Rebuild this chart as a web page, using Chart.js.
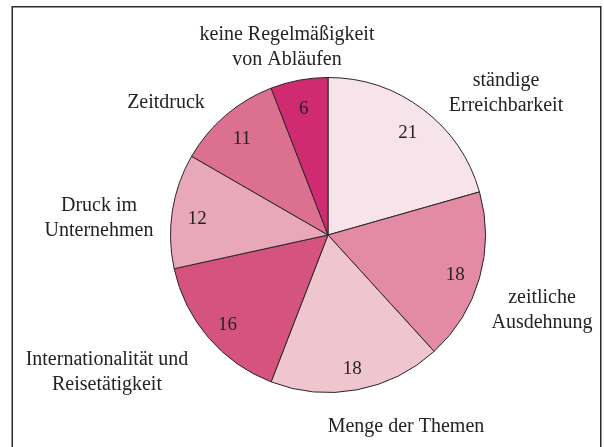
<!DOCTYPE html>
<html>
<head>
<meta charset="utf-8">
<script src="https://cdn.jsdelivr.net/npm/chart.js@4"></script>
<style>
  html, body { margin: 0; padding: 0; background: #ffffff; }
  canvas { display: block; }
</style>
</head>
<body>
<canvas id="c" width="604" height="447"></canvas>
<script>
// ---- data ----
const categories = [
  'ständige Erreichbarkeit',
  'zeitliche Ausdehnung',
  'Menge der Themen',
  'Internationalität und Reisetätigkeit',
  'Druck im Unternehmen',
  'Zeitdruck',
  'keine Regelmäßigkeit von Abläufen'
];
const labelLines = [
  ['ständige', 'Erreichbarkeit'],
  ['zeitliche', 'Ausdehnung'],
  ['Menge der Themen'],
  ['Internationalität und', 'Reisetätigkeit'],
  ['Druck im', 'Unternehmen'],
  ['Zeitdruck'],
  ['keine Regelmäßigkeit', 'von Abläufen']
];
const values = [21, 18, 18, 16, 12, 11, 6];
const sliceColors = ['#f7e4ea', '#e38aa5', '#efc5d0', '#d5547f', '#e8a8ba', '#dc7090', '#d02a71'];

// ---- layout (label anchors relative to the pie centre, px) ----
const outerLabelOffsets = [
  [178, -142], [214, 75], [78, 192], [-221, 137], [-229, -17], [-162, -132], [-41, -188]
];
const lineHeight = 24.5;
const textColor = '#262224';
const fontFamily = '"Liberation Serif", "Times New Roman", serif';

const labelPlugin = {
  id: 'labels',
  afterDatasetsDraw(chart) {
    const ctx = chart.ctx;
    const meta = chart.getDatasetMeta(0);
    ctx.save();
    ctx.fillStyle = textColor;
    ctx.textAlign = 'center';
    meta.data.forEach((arc, i) => {
      const p = arc.getProps(['x', 'y', 'startAngle', 'endAngle', 'outerRadius'], true);
      const mid = (p.startAngle + p.endAngle) / 2;
      const r = p.outerRadius * 0.84;
      ctx.font = '19px ' + fontFamily;
      ctx.textBaseline = 'alphabetic';
      ctx.fillText(String(values[i]), p.x + Math.cos(mid) * r, p.y + Math.sin(mid) * r + 9);
      // outer label
      ctx.font = '20px ' + fontFamily;
      ctx.textBaseline = 'middle';
      const lines = labelLines[i];
      const [ox, oy] = outerLabelOffsets[i];
      const y0 = p.y + oy - (lines.length - 1) * lineHeight / 2;
      lines.forEach((ln, k) => {
        ctx.fillText(ln, p.x + ox, y0 + k * lineHeight);
      });
    });
    ctx.restore();
  },
  afterDraw(chart) {
    const ctx = chart.ctx;
    ctx.save();
    ctx.strokeStyle = '#2a2a2a';
    ctx.lineWidth = 1.5;
    ctx.strokeRect(12.25, 6.75, 588.5, 460);
    ctx.restore();
  }
};

new Chart(document.getElementById('c'), {
  type: 'pie',
  data: {
    labels: categories,
    datasets: [{
      data: values,
      backgroundColor: sliceColors,
      borderColor: '#2b2527',
      borderWidth: 1,
      hoverOffset: 0,
      offset: 0
    }]
  },
  options: {
    responsive: false,
    animation: false,
    layout: { padding: { top: 77, bottom: 54, left: 170, right: 118 } },
    plugins: {
      legend: { display: false },
      tooltip: { enabled: false }
    },
    events: []
  },
  plugins: [labelPlugin]
});
</script>
</body>
</html>
